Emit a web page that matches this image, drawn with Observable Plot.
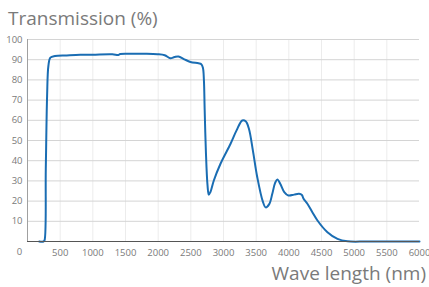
<!DOCTYPE html>
<html>
<head>
<meta charset="utf-8">
<script src="https://cdn.jsdelivr.net/npm/d3@7"></script>
<script src="https://cdn.jsdelivr.net/npm/@observablehq/plot@0.6"></script>
<style>
  html, body { margin: 0; padding: 0; background: #fff; }
  #wrap { position: relative; width: 429px; height: 287px; overflow: hidden; font-family: "Open Sans", sans-serif; }
  #title { position: absolute; left: 8px; top: 5px; font-size: 19px; line-height: 26px; color: #7a7a7a; white-space: nowrap; }
  #xlabel { position: absolute; right: 3px; top: 260px; font-size: 19px; line-height: 26px; color: #7a7a7a; white-space: nowrap; }
  #chart { position: absolute; left: 0; top: 0; }
</style>
</head>
<body>
<div id="wrap">
  <div id="chart"></div>
  <div id="title"></div>
  <div id="xlabel"></div>
</div>
<script>
const titleText = "Transmission (%)";
const xLabelText = "Wave length (nm)";

// Wavelength (nm) and transmission (%)
const wavelength = [180, 245, 260, 280, 300, 320, 350, 420, 600, 807, 1000, 1300, 1390, 1420, 1600, 1800, 1988, 2100, 2187, 2250, 2310, 2400, 2494, 2617, 2660, 2685, 2700, 2712, 2730, 2755, 2775, 2800, 2852, 2954, 3108, 3200, 3287, 3340, 3389, 3450, 3517, 3600, 3645, 3700, 3747, 3790, 3824, 3870, 3930, 3993, 4080, 4156, 4200, 4223, 4284, 4360, 4438, 4591, 4745, 4898, 5200, 6000];
const transmission = [0, 0, 0.5, 36, 72, 87, 91, 91.8, 92.1, 92.4, 92.5, 92.7, 92.3, 92.8, 92.9, 92.9, 92.7, 92.2, 90.7, 91.3, 91.6, 90.2, 88.9, 88.2, 87.8, 86, 80, 65, 45, 28, 23.2, 24.5, 30.2, 38.5, 48.4, 55, 59.9, 59.5, 55.8, 45, 31.8, 20, 16.9, 18.5, 23.6, 29, 30.7, 28.5, 24.5, 22.8, 23.2, 23.6, 23, 21.3, 18.7, 14.5, 10.4, 4.6, 1.3, 0.1, 0, 0];

const xTicks = [500, 1000, 1500, 2000, 2500, 3000, 3500, 4000, 4500, 5000, 5500, 6000];
const xGrid = [500, 1000, 1500, 2000, 2500, 3000, 3500, 4000, 4500, 5000, 5500];
const yTicks = [10, 20, 30, 40, 50, 60, 70, 80, 90, 100];
const originLabel = ["0"];

document.getElementById("title").textContent = titleText;
document.getElementById("xlabel").textContent = xLabelText;

const data = wavelength.map((w, i) => ({w, t: transmission[i]}));

const plot = Plot.plot({
  width: 429,
  height: 287,
  marginTop: 39,
  marginBottom: 46,
  marginLeft: 27,
  marginRight: 10,
  style: {fontFamily: "Open Sans, sans-serif", fontSize: "9.5px", color: "#7a7a7a", background: "transparent"},
  x: {domain: [0, 6000]},
  y: {domain: [0, 100]},
  marks: [
    Plot.ruleX(xGrid, {stroke: "#ececec", strokeWidth: 1}),
    Plot.ruleY(yTicks, {stroke: "#d4d4d4", strokeWidth: 1}),
    Plot.ruleX([0], {stroke: "#a0a0a0", strokeWidth: 1}),
    Plot.axisX(xTicks, {tickSize: 0, tickPadding: 8, tickFormat: d => String(d), label: null, fill: "#7a7a7a"}),
    Plot.axisY(yTicks, {tickSize: 0, tickPadding: 5, tickFormat: d => String(d), label: null, fill: "#7a7a7a"}),
    Plot.text(originLabel, {x: 0, frameAnchor: "bottom", dy: 10, dx: -8, text: d => d, fill: "#7a7a7a", lineAnchor: "middle"}),
    Plot.line(data, {x: "w", y: "t", stroke: "#1a6db3", strokeWidth: 2, curve: "catmull-rom"}),
    Plot.ruleY([0], {stroke: "#555", strokeWidth: 1.2})
  ]
});
document.getElementById("chart").appendChild(plot);
</script>
</body>
</html>
